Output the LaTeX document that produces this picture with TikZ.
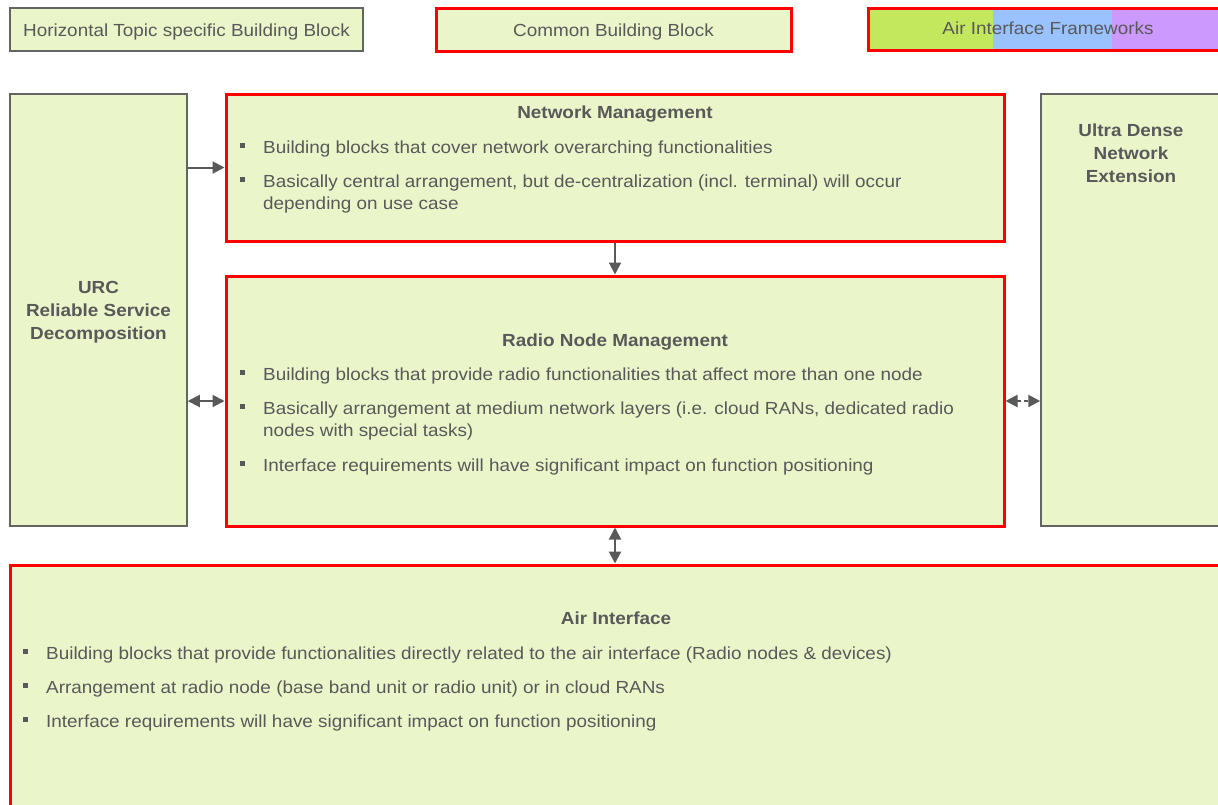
\documentclass[tikz,border=0pt]{standalone}
\usepackage{fontspec}
\setmainfont{Liberation Sans}[FakeStretch=1.08]
\usetikzlibrary{arrows.meta}
\definecolor{boxfill}{RGB}{234,245,202}
\definecolor{txt}{RGB}{89,89,89}
\definecolor{frame}{RGB}{100,100,100}
\definecolor{fwgreen}{RGB}{195,232,94}
\definecolor{fwblue}{RGB}{153,194,255}
\definecolor{fwpurple}{RGB}{204,153,255}
\tikzset{
  topicbox/.style={draw=frame, line width=1.5pt, fill=boxfill, rectangle, inner sep=0pt},
  commonbox/.style={draw=red, line width=3pt, fill=boxfill, rectangle, inner sep=0pt},
  body/.style={text=txt, inner sep=0pt, font=\fontsize{17.5}{22}\selectfont, align=left, anchor=base west},
  title/.style={text=txt, inner sep=0pt, font=\fontsize{17.5}{23}\selectfont\bfseries, align=center, anchor=base},
  legend/.style={text=txt, inner sep=0pt, font=\fontsize{17.5}{20}\selectfont, anchor=base},
  tip/.tip={Triangle[length=12pt,width=12pt]},
  arr/.style={draw=txt, line width=2pt, -tip},
  darr/.style={draw=txt, line width=2pt, tip-tip},
}
% bullet item: square marker at the first line (#2), node anchored at the last line baseline (#3)
\newcommand{\bulitem}[5]{%
  \fill[txt] (#1-23,#2-10) rectangle (#1-18,#2-5);
  \node[body] (#4) at (#1,#3) {#5};}
\begin{document}
\begin{tikzpicture}[x=1pt,y=-1pt]
\useasboundingbox (0,0) rectangle (1218,804);
\clip (0,0) rectangle (1218,804);

% legend
\node[topicbox, minimum width=353pt, minimum height=43pt] (lg1) at (186.5,29.5) {};
\node[legend] (lg1t) at (186.5,36) {Horizontal Topic specific Building Block};
\node[commonbox, minimum width=355pt, minimum height=43pt] (lg2) at (613.5,29.5) {};
\node[legend] (lg2t) at (613.5,36) {Common Building Block};
\fill[fwgreen] (868,8) rectangle (993,50);
\fill[fwblue] (993,8) rectangle (1112,50);
\fill[fwpurple] (1112,8) rectangle (1240,50);
\node[draw=red, line width=3pt, rectangle, inner sep=0pt, minimum width=372pt, minimum height=42pt] (lg3) at (1054,29) {};
\node[legend] (lg3t) at (1048,34) {Air Interface Frameworks};

% side blocks (multi-line titles are anchored at their last baseline)
\node[topicbox, minimum width=177pt, minimum height=432pt] (urc) at (98.5,310) {};
\node[title] (urct) at (98.5,339) {URC\\Reliable Service\\Decomposition};
\node[topicbox, minimum width=199pt, minimum height=432pt] (udn) at (1140.5,310) {};
\node[title] (udnt) at (1131,182) {Ultra Dense\\Network\\Extension};

% network management
\node[commonbox, minimum width=778pt, minimum height=147pt] (nm) at (615,167.5) {};
\node[title] (nmt) at (615,118) {Network Management};
\bulitem{263}{153}{153}{nm1}{Building blocks that cover network overarching functionalities}
\bulitem{263}{187}{209}{nm2}{Basically central arrangement, but de-centralization (incl. terminal) will occur\\depending on use case}

% radio node management
\node[commonbox, minimum width=778pt, minimum height=250pt] (rnm) at (615,401) {};
\node[title] (rnmt) at (615,346) {Radio Node Management};
\bulitem{263}{380}{380}{rn1}{Building blocks that provide radio functionalities that affect more than one node}
\bulitem{263}{414}{436}{rn2}{Basically arrangement at medium  network layers (i.e. cloud RANs, dedicated radio\\nodes with special tasks)}
\bulitem{263}{471}{471}{rn3}{Interface requirements will have significant impact on function positioning}

% air interface
\node[commonbox, minimum width=1230pt, minimum height=265pt] (air) at (625,697.5) {};
\node[title] (airt) at (616,624) {Air Interface};
\bulitem{46}{659}{659}{ai1}{Building blocks that provide functionalities directly related to the air interface (Radio nodes \& devices)}
\bulitem{46}{693}{693}{ai2}{Arrangement at radio node (base band unit or radio unit) or in cloud RANs}
\bulitem{46}{727}{727}{ai3}{Interface requirements will have significant impact on function positioning}

% connectors
\draw[arr] (urc.east |- nm.west) -- (nm.west);
\draw[darr] (urc.east |- rnm.west) -- (rnm.west);
\draw[darr, dash pattern=on 4pt off 3pt] (rnm.east) -- (udn.west |- rnm.east);
\draw[arr] (nm.south) -- (rnm.north);
\draw[darr] (rnm.south) -- (air.north -| rnm.south);
\end{tikzpicture}
\end{document}
